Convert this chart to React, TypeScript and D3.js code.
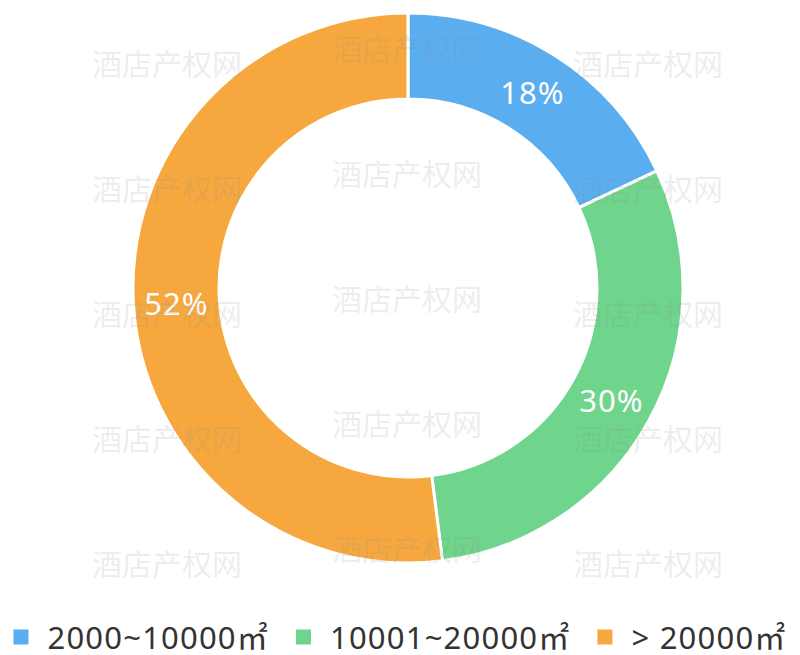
import { useEffect, useRef } from "react";
import * as d3 from "d3";

const categories = ["2000~10000㎡", "10001~20000㎡", "> 20000㎡"];
const shares = [18, 30, 52];
const colors = ["#5aaef0", "#6fd58d", "#f6a83f"];
const watermark = "酒店产权网";

const width = 800;
const height = 655;
const cx = 408;
const cy = 288;
const outerR = 275;
const innerR = 189;

export default function App() {
  const ref = useRef<SVGSVGElement>(null);

  useEffect(() => {
    document.body.style.margin = "0";
    const svg = d3.select(ref.current);
    svg.selectAll("*").remove();

    const pieGen = d3.pie<number>().sort(null).value((d) => d);
    const arcGen = d3.arc<d3.PieArcDatum<number>>().innerRadius(innerR).outerRadius(outerR);
    const slices = pieGen(shares);

    const g = svg.append("g").attr("transform", `translate(${cx},${cy})`);
    g.selectAll("path")
      .data(slices)
      .join("path")
      .attr("d", arcGen)
      .attr("fill", (_, i) => colors[i])
      .attr("stroke", "#fff")
      .attr("stroke-width", 3);

    g.selectAll("text.lbl")
      .data(slices)
      .join("text")
      .attr("class", "lbl")
      .attr("transform", (d) => `translate(${arcGen.centroid(d)})`)
      .attr("text-anchor", "middle")
      .attr("dominant-baseline", "central")
      .attr("fill", "#fff")
      .attr("font-family", "'Noto Sans', sans-serif")
      .attr("font-size", 31)
      .attr("letter-spacing", 1)
      .text((d) => `${d.data}%`);

    // watermark grid, staggered columns
    const wm = svg.append("g").attr("pointer-events", "none");
    const colStarts = [-148, 92, 332, 573];
    colStarts.forEach((x, ci) => {
      const y0 = ci % 2 === 0 ? 47 : 62;
      for (let k = 0; k < 5; k++) {
        wm.append("text")
          .attr("x", x)
          .attr("y", y0 + k * 125)
          .attr("dominant-baseline", "central")
          .attr("font-family", "'Noto Sans CJK SC', sans-serif")
          .attr("font-size", 30)
          .attr("fill", "#8c8c8c")
          .attr("fill-opacity", 0.17)
          .text(watermark);
      }
    });

    // legend, centred
    const legend = svg.append("g");
    const sq = 15;
    const pad = 19;
    const gap = 27;
    const items = legend
      .selectAll("g")
      .data(categories)
      .join("g");
    items
      .append("rect")
      .attr("width", sq)
      .attr("height", sq)
      .attr("y", -sq / 2)
      .attr("fill", (_, i) => colors[i]);
    items
      .append("text")
      .attr("x", sq + pad)
      .attr("dominant-baseline", "central")
      .attr("font-family", "'Noto Sans', 'Noto Sans CJK SC', sans-serif")
      .attr("font-size", 31)
      .attr("letter-spacing", 1.2)
      .attr("fill", "#333")
      .text((d) => d);
    const widths: number[] = [];
    items.each(function () {
      const t = d3.select(this).select("text").node() as SVGTextElement;
      widths.push(sq + pad + t.getComputedTextLength());
    });
    const total = d3.sum(widths) + gap * (widths.length - 1);
    let x = width / 2 - total / 2;
    items.attr("transform", (_, i) => {
      const tx = x;
      x += widths[i] + gap;
      return `translate(${tx},637)`;
    });
  }, []);

  return <svg ref={ref} width={width} height={height} style={{ display: "block", background: "#fff" }} />;
}
